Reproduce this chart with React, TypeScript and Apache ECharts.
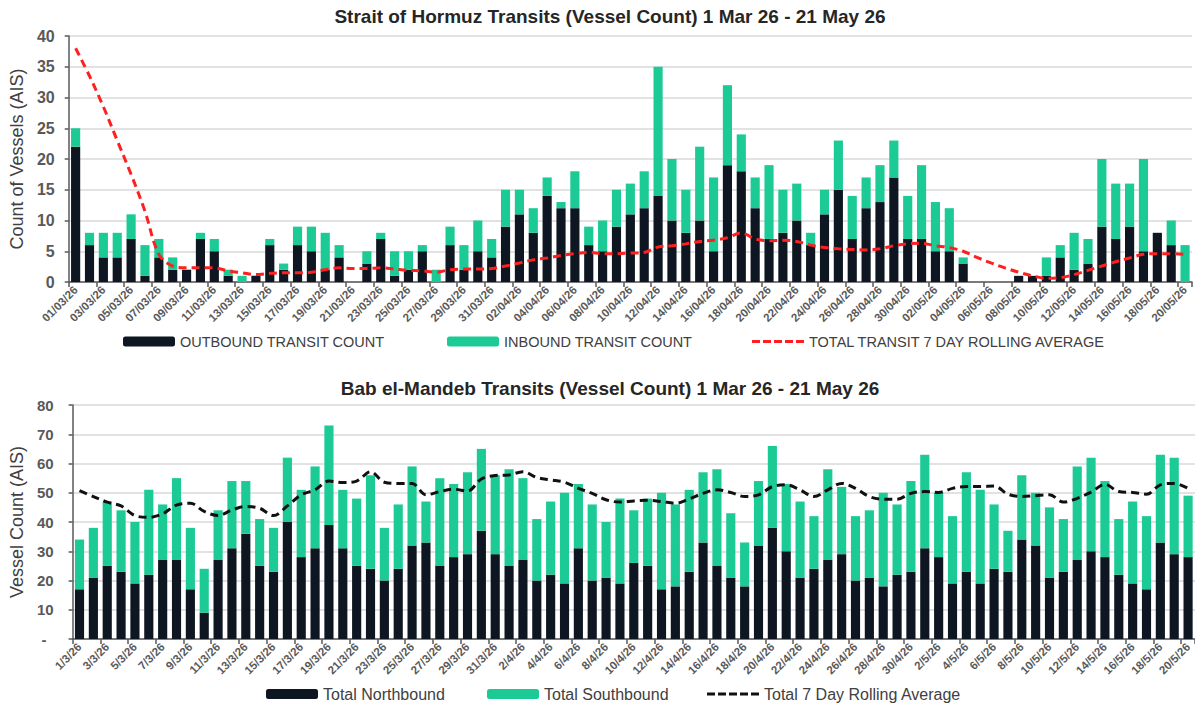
import React, { useEffect, useRef } from 'react';
import * as echarts from 'echarts';

const hormuzDates = [
  '01/03/26','02/03/26','03/03/26','04/03/26','05/03/26','06/03/26','07/03/26','08/03/26','09/03/26','10/03/26',
  '11/03/26','12/03/26','13/03/26','14/03/26','15/03/26','16/03/26','17/03/26','18/03/26','19/03/26','20/03/26',
  '21/03/26','22/03/26','23/03/26','24/03/26','25/03/26','26/03/26','27/03/26','28/03/26','29/03/26','30/03/26',
  '31/03/26','01/04/26','02/04/26','03/04/26','04/04/26','05/04/26','06/04/26','07/04/26','08/04/26','09/04/26',
  '10/04/26','11/04/26','12/04/26','13/04/26','14/04/26','15/04/26','16/04/26','17/04/26','18/04/26','19/04/26',
  '20/04/26','21/04/26','22/04/26','23/04/26','24/04/26','25/04/26','26/04/26','27/04/26','28/04/26','29/04/26',
  '30/04/26','01/05/26','02/05/26','03/05/26','04/05/26','05/05/26','06/05/26','07/05/26','08/05/26','09/05/26',
  '10/05/26','11/05/26','12/05/26','13/05/26','14/05/26','15/05/26','16/05/26','17/05/26','18/05/26','19/05/26',
  '20/05/26',
];
const mandebDates = hormuzDates.map((d) =>
  d.split('/').map((p, i) => (i < 2 ? String(Number(p)) : p)).join('/')
);

const hormuzOutbound = [
  22, 6, 4, 4, 7, 1, 4, 2, 2, 7,
  5, 1, 0, 1, 6, 2, 6, 5, 2, 4,
  0, 3, 7, 1, 2, 5, 0, 6, 2, 5,
  4, 9, 11, 8, 14, 12, 12, 6, 5, 9,
  11, 12, 14, 10, 8, 10, 5, 19, 18, 12,
  7, 8, 10, 6, 11, 15, 7, 12, 13, 17,
  7, 7, 5, 5, 3, 0, 0, 0, 1, 1,
  1, 4, 2, 3, 9, 7, 9, 5, 8, 6,
  0,
];
const hormuzInbound = [
  3, 2, 4, 4, 4, 5, 3, 2, 0, 1,
  2, 1, 1, 0, 1, 1, 3, 4, 6, 2,
  0, 2, 1, 4, 3, 1, 2, 3, 4, 5,
  3, 6, 4, 4, 3, 1, 6, 3, 5, 6,
  5, 6, 21, 10, 7, 12, 12, 13, 6, 5,
  12, 7, 6, 2, 4, 8, 7, 5, 6, 6,
  7, 12, 8, 7, 1, 0, 0, 0, 0, 0,
  3, 2, 6, 4, 11, 9, 7, 15, 0, 4,
  6,
];
const hormuzRolling = [
  38, 33.5, 28.5, 23, 17.5, 11.5, 4.5, 2.6, 2.3, 2.3,
  2.3, 1.8, 1.5, 1.2, 1.4, 1.5, 1.5, 1.6, 2.0, 2.3,
  2.2, 2.2, 2.3, 2.1, 1.9, 1.8, 1.6, 2.0, 2.1, 2.1,
  2.2, 2.6, 3.1, 3.6, 3.9, 4.3, 4.6, 4.8, 4.6, 4.6,
  4.7, 4.8, 5.7, 5.9, 6.2, 6.6, 6.8, 7.2, 8.0, 7.0,
  6.7, 6.8, 6.6, 6.0, 5.6, 5.4, 5.3, 5.2, 5.4, 5.9,
  6.2, 6.3, 5.9, 5.6, 5.0, 4.0, 3.1, 2.3, 1.6, 1.0,
  0.6, 0.7, 1.2, 1.9, 2.6, 3.3, 3.9, 4.5, 4.6, 4.6,
  4.5,
];

const mandebNorthbound = [
  17, 21, 25, 23, 19, 22, 27, 27, 17, 9,
  27, 31, 36, 25, 23, 40, 28, 31, 39, 31,
  25, 24, 20, 24, 32, 33, 25, 28, 29, 37,
  29, 25, 27, 20, 22, 19, 31, 20, 21, 19,
  26, 25, 17, 18, 23, 33, 25, 21, 18, 32,
  38, 30, 21, 24, 27, 29, 20, 21, 18, 22,
  23, 31, 28, 19, 23, 19, 24, 23, 34, 32,
  21, 23, 27, 30, 28, 22, 19, 17, 33, 29,
  28,
];
const mandebSouthbound = [
  17, 17, 22, 21, 21, 29, 19, 28, 21, 15,
  17, 23, 18, 16, 15, 22, 23, 28, 34, 20,
  23, 32, 18, 22, 27, 14, 30, 25, 28, 28,
  27, 33, 28, 21, 25, 31, 22, 26, 19, 29,
  18, 23, 33, 28, 28, 24, 33, 22, 15, 22,
  28, 23, 26, 18, 31, 23, 22, 23, 32, 24,
  31, 32, 22, 23, 34, 32, 22, 14, 22, 18,
  24, 18, 32, 32, 26, 19, 28, 25, 30, 33,
  21,
];
const mandebRolling = [
  50.7, 48.7, 46.8, 45.5, 42.2, 41.6, 42.8, 45.8, 46.4, 43.6,
  42.2, 44.1, 45.3, 44.7, 42.2, 45.5, 49.3, 51, 54, 53.5,
  54, 57.2, 53.6, 53.2, 53.2, 49.3, 50.4, 51.2, 50.6, 54.7,
  55.9, 56.1, 57.2, 55.2, 54.4, 53.6, 51.5, 49.8, 47.6, 46.8,
  47.2, 47.4, 47, 46.4, 47.9, 49.8, 51, 50.1, 48.7, 49.3,
  52.1, 52.7, 51, 48.7, 51, 53.2, 51.5, 48.7, 47.8, 47.8,
  49.8, 50.4, 50.1, 51.5, 52.1, 52.1, 52.3, 49.5, 48.7, 49,
  49.3, 46.8, 48.1, 50.2, 52.9, 50.4, 50.1, 49.5, 52.7, 53.2,
  51.5,
];

const FONT = '"Liberation Sans", Arial, sans-serif';
const DARK = '#0d1621';
const GREEN = '#1bca95';
const RED = '#ff1f1f';
const BLACKLINE = '#111111';
const AXIS = '#595959';
const GRID = '#d9d9d9';
const DASH_ICON = 'path://M0,0h8v3h-8z M11,0h8v3h-8z M22,0h8v3h-8z M33,0h8v3h-8z M44,0h8v3h-8z';

function xAxisCfg(data: string[], gridIndex: number) {
  return {
    type: 'category',
    gridIndex,
    data,
    boundaryGap: true,
    axisLine: { show: true, lineStyle: { color: AXIS, width: 1.5 } },
    axisTick: { show: true, interval: 1, length: 5, lineStyle: { color: AXIS, width: 1.5 } },
    axisLabel: {
      interval: 1,
      rotate: 45,
      margin: 6,
      fontSize: 11.5,
      fontWeight: 'bold',
      color: AXIS,
      fontFamily: FONT,
    },
    splitLine: { show: false },
  };
}

function legendCfg(name: string, left: number, top: number, fontSize: number, icon?: string) {
  return {
    data: [icon ? { name, icon } : name],
    left,
    top,
    padding: 0,
    itemWidth: 52,
    itemHeight: 10,
    itemGap: 0,
    textStyle: { fontSize, color: '#404040', fontFamily: FONT },
  };
}

const titleStyle = { fontSize: 19, fontWeight: 'bold', color: '#262626', fontFamily: FONT };

const option = {
  animation: false,
  backgroundColor: '#ffffff',
  textStyle: { fontFamily: FONT },
  title: [
    {
      text: 'Strait of Hormuz Transits (Vessel Count) 1 Mar 26 - 21 May 26',
      left: 610,
      top: 7,
      textAlign: 'center',
      padding: 0,
      textStyle: titleStyle,
    },
    {
      text: 'Bab el-Mandeb Transits (Vessel Count) 1 Mar 26 - 21 May 26',
      left: 610,
      top: 379,
      textAlign: 'center',
      padding: 0,
      textStyle: titleStyle,
    },
  ],
  legend: [
    legendCfg('OUTBOUND TRANSIT COUNT', 123, 334, 14.5),
    legendCfg('INBOUND TRANSIT COUNT', 447, 334, 14.5),
    legendCfg('TOTAL TRANSIT 7 DAY ROLLING AVERAGE', 752, 334, 14.5, DASH_ICON),
    legendCfg('Total Northbound', 266, 686, 16),
    legendCfg('Total Southbound', 487, 686, 16),
    legendCfg('Total 7 Day Rolling Average', 707, 686, 16, DASH_ICON),
  ],
  grid: [
    { left: 66, right: 3, top: 36, bottom: 427 },
    { left: 61, right: 0, top: 405, bottom: 70 },
  ],
  xAxis: [xAxisCfg(hormuzDates, 0), xAxisCfg(mandebDates, 1)],
  yAxis: [
    {
      type: 'value',
      gridIndex: 0,
      min: 0,
      max: 40,
      interval: 5,
      name: 'Count of Vessels (AIS)',
      nameLocation: 'middle',
      nameGap: 39,
      nameTextStyle: { fontSize: 18, color: '#404040', fontFamily: FONT },
      axisLine: { show: true, lineStyle: { color: AXIS, width: 1.5 } },
      axisTick: { show: true, length: 4, lineStyle: { color: AXIS, width: 1.5 } },
      axisLabel: { fontSize: 16, fontWeight: 'bold', color: AXIS, margin: 14, fontFamily: FONT },
      splitLine: { show: true, lineStyle: { color: GRID, width: 1.5 } },
    },
    {
      type: 'value',
      gridIndex: 1,
      min: 0,
      max: 80,
      interval: 10,
      name: 'Vessel Count (AIS)',
      nameLocation: 'middle',
      nameGap: 39,
      nameTextStyle: { fontSize: 18, color: '#404040', fontFamily: FONT },
      axisLine: { show: true, lineStyle: { color: AXIS, width: 1.5 } },
      axisTick: { show: true, length: 4, lineStyle: { color: AXIS, width: 1.5 } },
      axisLabel: {
        fontSize: 15,
        fontWeight: 'bold',
        color: AXIS,
        margin: 19,
        fontFamily: FONT,
        formatter: (v: number) => (v === 0 ? '{d|-}' : String(v)),
        rich: {
          d: { fontSize: 15, fontWeight: 'bold', color: AXIS, fontFamily: FONT, width: 12, align: 'left' },
        },
      },
      splitLine: { show: true, lineStyle: { color: GRID, width: 1.5 } },
    },
  ],
  series: [
    {
      name: 'OUTBOUND TRANSIT COUNT',
      type: 'bar',
      stack: 'hormuz',
      xAxisIndex: 0,
      yAxisIndex: 0,
      barWidth: '66%',
      itemStyle: { color: DARK },
      data: hormuzOutbound,
    },
    {
      name: 'INBOUND TRANSIT COUNT',
      type: 'bar',
      stack: 'hormuz',
      xAxisIndex: 0,
      yAxisIndex: 0,
      barWidth: '66%',
      itemStyle: { color: GREEN },
      data: hormuzInbound,
    },
    {
      name: 'TOTAL TRANSIT 7 DAY ROLLING AVERAGE',
      type: 'line',
      xAxisIndex: 0,
      yAxisIndex: 0,
      smooth: 0.35,
      symbol: 'none',
      lineStyle: { color: RED, width: 3, type: [8, 5] },
      itemStyle: { color: RED },
      z: 5,
      data: hormuzRolling,
    },
    {
      name: 'Total Northbound',
      type: 'bar',
      stack: 'mandeb',
      xAxisIndex: 1,
      yAxisIndex: 1,
      barWidth: '66%',
      itemStyle: { color: DARK },
      data: mandebNorthbound,
    },
    {
      name: 'Total Southbound',
      type: 'bar',
      stack: 'mandeb',
      xAxisIndex: 1,
      yAxisIndex: 1,
      barWidth: '66%',
      itemStyle: { color: GREEN },
      data: mandebSouthbound,
    },
    {
      name: 'Total 7 Day Rolling Average',
      type: 'line',
      xAxisIndex: 1,
      yAxisIndex: 1,
      smooth: 0.35,
      symbol: 'none',
      lineStyle: { color: BLACKLINE, width: 3, type: [8, 5] },
      itemStyle: { color: BLACKLINE },
      z: 5,
      data: mandebRolling,
    },
  ],
};

export default function App() {
  const ref = useRef<HTMLDivElement>(null);
  useEffect(() => {
    if (!ref.current) return;
    const chart = echarts.init(ref.current, null, { renderer: 'svg' });
    chart.setOption(option as any);
    return () => chart.dispose();
  }, []);
  return (
    <div
      ref={ref}
      style={{ position: 'absolute', left: 0, top: 0, width: 1195, height: 709, background: '#ffffff' }}
    />
  );
}
